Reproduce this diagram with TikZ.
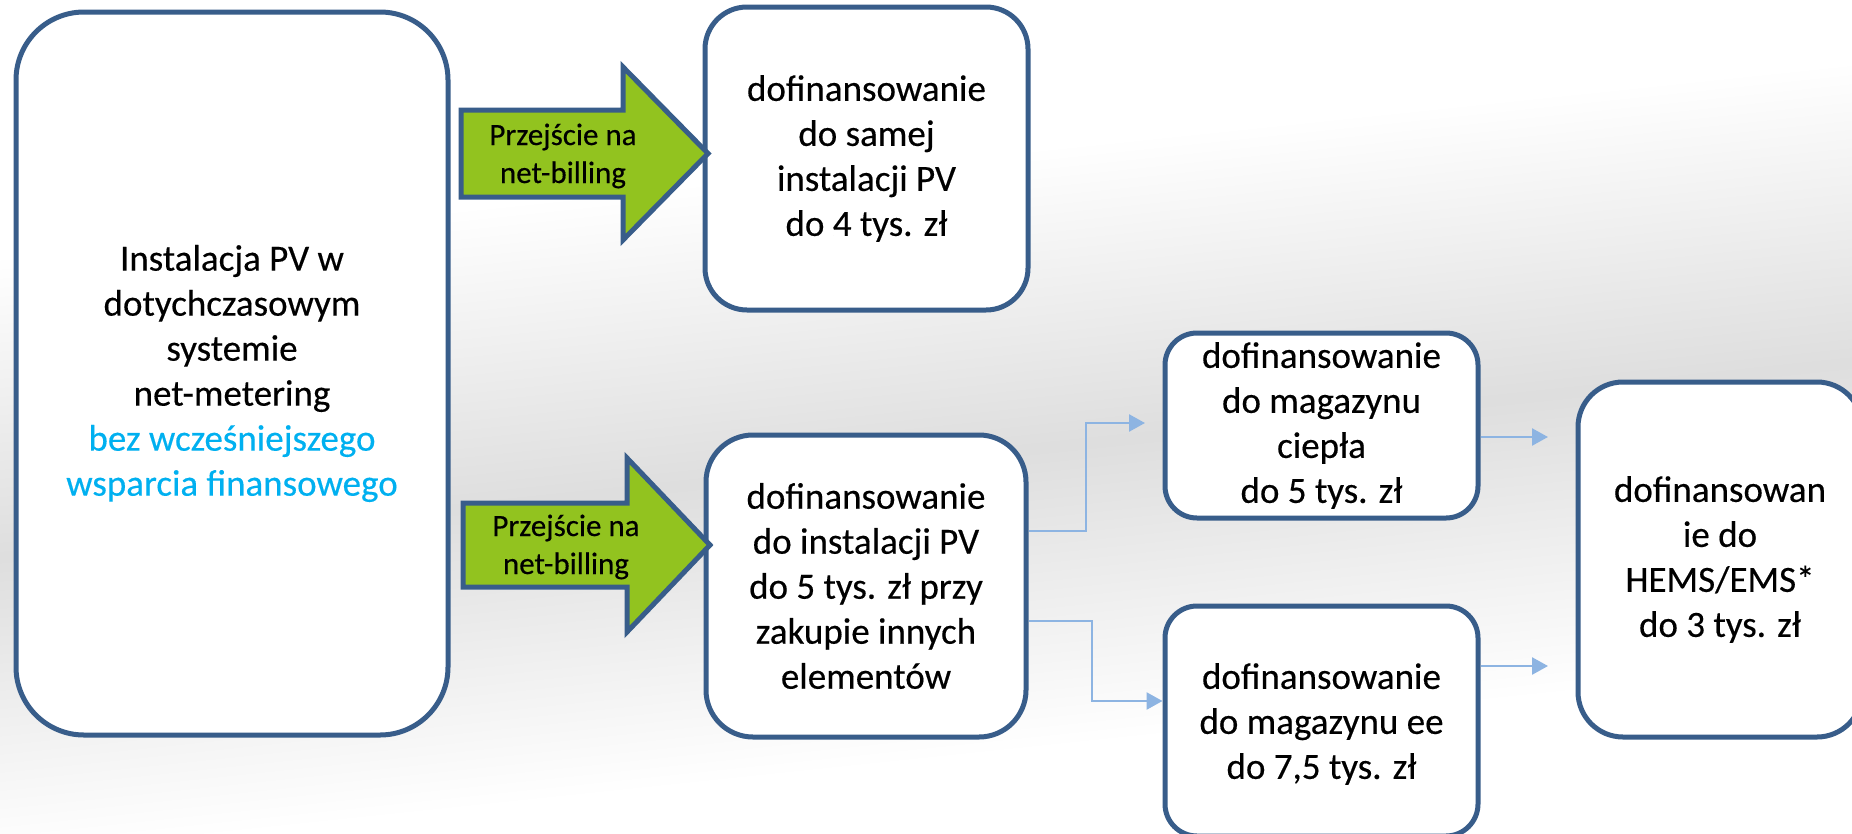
\documentclass[tikz,border=0pt]{standalone}
\usepackage{fontspec}
\setmainfont{Carlito}[FakeBold=0.35]
\usetikzlibrary{arrows.meta,calc}
\definecolor{boxblue}{HTML}{385D8A}
\definecolor{arrgreen}{HTML}{92C31F}
\definecolor{txtblue}{HTML}{00B0F0}
\definecolor{connblue}{HTML}{8DB4E2}
\begin{document}
\begin{tikzpicture}[x=1pt,y=-1pt,
  box/.style={draw=boxblue, line width=5pt, fill=white, rounded corners=#1,
    inner sep=0pt, align=center, font=\fontsize{37}{45}\selectfont},
  box/.default=45pt,
  garrow/.style={draw=boxblue, line width=5pt, fill=arrgreen, line join=miter},
  glabel/.style={align=center, inner sep=0pt, font=\fontsize{31}{38}\selectfont},
  conn/.style={draw=connblue, line width=2.5pt, -{Triangle[length=16pt,width=17pt]}}]
\useasboundingbox (0,0) rectangle (1852,833);
\clip (0,0) rectangle (1852,833);
\fill[white] (0,0) rectangle (1852,833);
% background swoosh
\begin{scope}[transform canvas={rotate around={6:(926,470)}}]
  \shade[top color=white, bottom color=white, middle color=black!13] (-500,160) rectangle (2400,760);
\end{scope}
% boxes
\node[box=68pt, minimum width=432pt, minimum height=723pt] (left) at (232,373.5)
  {Instalacja PV w\\dotychczasowym\\systemie\\net-metering\\\textcolor{txtblue}{bez wcześniejszego}\\\textcolor{txtblue}{wsparcia finansowego}};
\node[box=42pt, minimum width=323pt, minimum height=303pt] (top) at (866.5,158.5)
  {dofinansowanie\\do samej\\instalacji PV\\do 4 tys. zł};
\node[box=47pt, minimum width=320pt, minimum height=302pt] (mid) at (866,586)
  {dofinansowanie\\do instalacji PV\\do 5 tys. zł przy\\zakupie innych\\elementów};
\node[box=32pt, minimum width=313pt, minimum height=185pt] (heat) at (1321.5,425.5)
  {dofinansowanie\\do magazynu\\ciepła\\do 5 tys. zł};
\node[box=32pt, minimum width=313pt, minimum height=230pt, text depth=0pt] (ee) at (1321.5,721)
  {dofinansowanie\\do magazynu ee\\do 7,5 tys. zł};
\node[box=45pt, minimum width=284pt, minimum height=355pt] (hems) at (1720,559.5)
  {dofinansowan\\ie do\\HEMS/EMS*\\do 3 tys. zł};
% green arrows
\draw[garrow] (461,110) -- (623,110) -- (623,67) -- (708,153.5) -- (623,240) -- (623,197) -- (461,197) -- cycle;
\node[glabel] (a1) at (563,156) {Przejście na\\net-billing};
\draw[garrow] (463,503) -- (627,503) -- (627,458) -- (710,545) -- (627,632) -- (627,587) -- (463,587) -- cycle;
\node[glabel] (a2) at (566,547) {Przejście na\\net-billing};
% connectors
\coordinate (k1) at (1086,423);
\coordinate (t1) at (1145,423);
\coordinate (k2) at (1092,701);
\coordinate (t3) at (1548,437);
\coordinate (t4) at (1548,666);
\draw[conn] ([yshift=55pt]mid.east) -| (k1) -- (t1);
\draw[conn] ([yshift=-35pt]mid.east) -| (k2) -- ([yshift=20pt]ee.west);
\draw[conn] ([yshift=-11.5pt]heat.east) -- (t3);
\draw[conn] ([yshift=55pt]ee.east) -- (t4);
\end{tikzpicture}
\end{document}
